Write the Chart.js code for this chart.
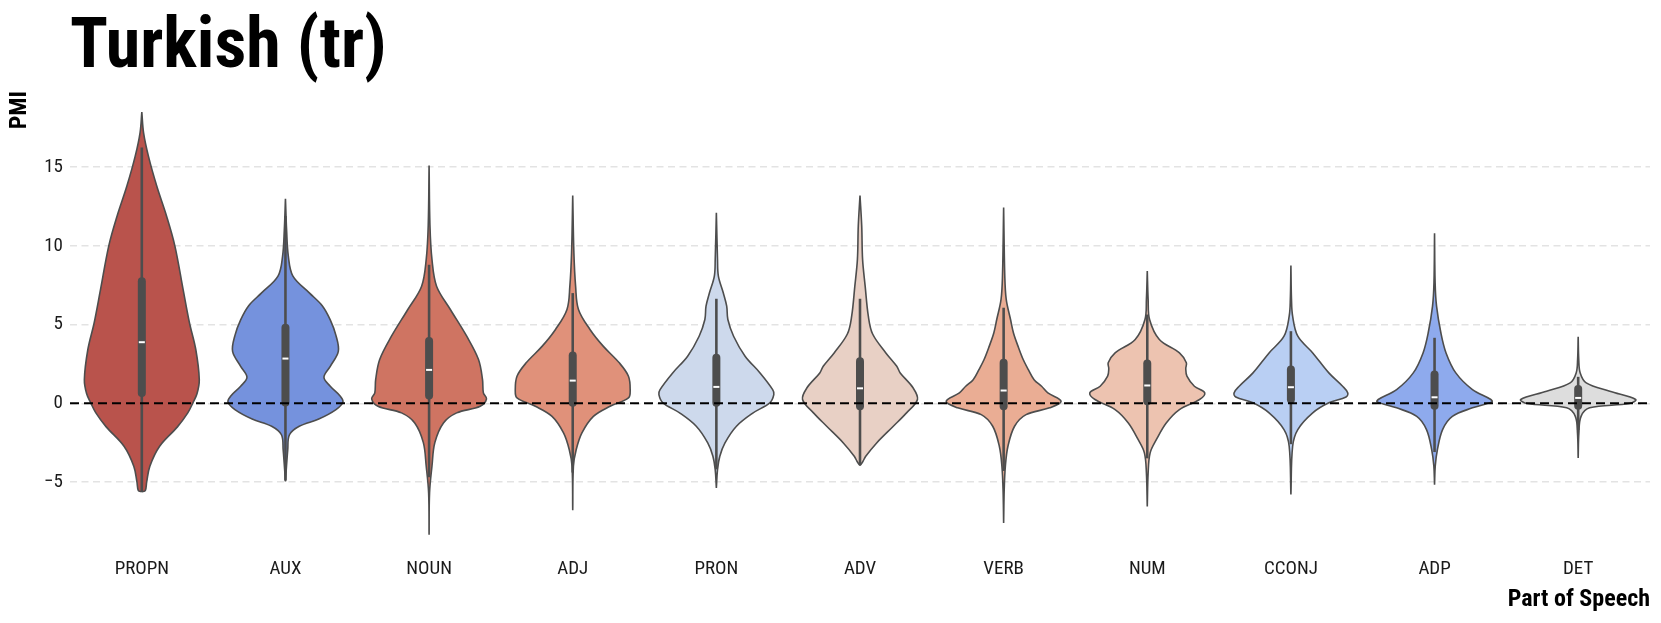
<!DOCTYPE html>
<html>
<head>
<meta charset="utf-8">
<script src="https://cdn.jsdelivr.net/npm/chart.js@4.4.1/dist/chart.umd.min.js"></script>
<style>
html,body{margin:0;padding:0;background:#ffffff;}
#wrap{width:1661px;height:623px;position:relative;}
</style>
</head>
<body>
<div id="wrap"><canvas id="c"></canvas></div>
<script>
// ---------- data ----------
const categories = ['PROPN','AUX','NOUN','ADJ','PRON','ADV','VERB','NUM','CCONJ','ADP','DET'];
const fillColors = ['#b9534c','#7592dd','#cf7462','#e0917a','#cdd9ec','#e8d0c5','#eaad94','#edc3b0','#b9cff3','#8eaaed','#dddddd'];
const yTickValues = [-5, 0, 5, 10, 15];

// violin outlines: PMI level and relative half-width (1 = widest point of that violin)
const PROPN_pmi   = [-5.62,-5.55,-5.0,-4.0,-2.73,-1.5,-0.61,0.03,0.6,1.5,3.4,5.1,7.2,10.0,11.9,13.8,15.7,17.2,18.5];
const PROPN_width = [0,0.06,0.085,0.14,0.31,0.62,0.8,0.89,0.96,1.0,0.94,0.83,0.72,0.575,0.43,0.26,0.115,0.03,0];
const AUX_pmi     = [-4.96,-2.95,-2.0,-1.46,-1.0,-0.4,0.08,0.45,1.08,1.65,2.35,3.3,4.3,5.3,6.2,7.0,8.08,9.35,11.0,13.0];
const AUX_width   = [0,0.04,0.07,0.24,0.58,0.88,1.0,0.955,0.78,0.67,0.78,0.92,0.88,0.78,0.64,0.42,0.13,0.05,0.02,0];
const NOUN_pmi    = [-8.35,-5.7,-4.0,-2.5,-1.25,-0.61,-0.19,0.28,0.66,1.5,2.78,4.26,5.96,7.44,9.14,11.3,15.1];
const NOUN_width  = [0,0.008,0.05,0.1,0.25,0.48,0.89,1.0,0.945,0.93,0.86,0.655,0.37,0.13,0.05,0.015,0];
const ADJ_pmi     = [-6.8,-4.0,-2.95,-1.88,-0.83,-0.19,0.34,0.87,1.72,2.57,3.63,4.69,5.96,7.44,9.57,13.2];
const ADJ_width   = [0,0.012,0.06,0.16,0.36,0.65,0.97,1.0,0.97,0.81,0.53,0.3,0.1,0.05,0.02,0];
const PRON_pmi    = [-5.38,-4.22,-3.37,-2.52,-1.46,-0.61,0.03,0.55,0.87,1.93,2.99,4.26,5.32,6.17,7.02,8.08,9.14,12.1];
const PRON_width  = [0,0.02,0.06,0.15,0.35,0.64,0.93,1.0,0.98,0.76,0.5,0.3,0.2,0.18,0.12,0.035,0.02,0];
const ADV_pmi     = [-3.96,-3.7,-3.37,-2.52,-1.46,-0.61,0.24,1.0,1.93,2.35,3.2,4.4,5.53,7.44,9.14,11.26,13.2];
const ADV_width   = [0,0.05,0.1,0.29,0.58,0.81,1.0,0.92,0.7,0.64,0.45,0.22,0.145,0.09,0.045,0.03,0];
const VERB_pmi    = [-7.6,-5.5,-4.0,-2.73,-1.46,-0.72,-0.29,0.13,0.66,1.08,1.5,2.14,2.78,3.63,4.48,5.32,6.6,8.08,12.43];
const VERB_width  = [0,0.01,0.03,0.075,0.19,0.39,0.8,1.0,0.77,0.66,0.53,0.43,0.34,0.25,0.17,0.12,0.045,0.02,0];
const NUM_pmi     = [-6.55,-4.43,-3.15,-2.3,-1.25,-0.4,0.24,0.66,1.08,1.72,2.2,2.57,3.2,4.05,5.32,6.6,8.4];
const NUM_width   = [0,0.015,0.05,0.16,0.33,0.56,0.91,1.0,0.82,0.69,0.67,0.68,0.56,0.21,0.04,0.015,0];
const CCONJ_pmi   = [-5.8,-2.73,-1.67,-0.61,0.03,0.4,0.66,1.08,1.93,3.2,4.26,5.53,6.6,8.76];
const CCONJ_width = [0,0.03,0.12,0.38,0.66,0.96,0.99,0.9,0.66,0.38,0.12,0.03,0.01,0];
const ADP_pmi     = [-5.17,-4.0,-2.95,-1.67,-0.83,-0.29,0.09,0.24,0.87,1.93,3.2,4.48,6.17,7.66,10.8];
const ADP_width   = [0,0.012,0.05,0.14,0.31,0.66,1.0,0.98,0.66,0.37,0.2,0.11,0.035,0.01,0];
const DET_pmi     = [-3.47,-1.88,-0.83,-0.29,-0.02,0.24,0.76,1.3,1.93,2.78,4.22];
const DET_width   = [0,0.012,0.05,0.2,0.89,1.0,0.55,0.14,0.035,0.01,0];

// inner box plot statistics
const boxQ1       = [0.66, 0.05, 0.49, 0.03, 0.03, -0.19, -0.19, 0.13, 0.24, -0.15, -0.15];
const boxQ3       = [7.76, 4.8, 3.95, 3.03, 2.89, 2.67, 2.57, 2.52, 2.14, 1.83, 0.91];
const boxMedian   = [3.88, 2.84, 2.12, 1.44, 1.04, 0.95, 0.81, 1.13, 1.02, 0.38, 0.34];
const whiskerHigh = [16.25, 11.9, 8.8, 7.0, 6.64, 6.64, 6.07, 5.64, 4.58, 4.16, 1.68];
const whiskerLow  = [-5.6, -4.9, -4.7, -4.4, -4.2, -3.9, -4.3, -3.5, -2.6, -3.1, -1.7];

const profilePmi   = [PROPN_pmi, AUX_pmi, NOUN_pmi, ADJ_pmi, PRON_pmi, ADV_pmi, VERB_pmi, NUM_pmi, CCONJ_pmi, ADP_pmi, DET_pmi];
const profileWidth = [PROPN_width, AUX_width, NOUN_width, ADJ_width, PRON_width, ADV_width, VERB_width, NUM_width, CCONJ_width, ADP_width, DET_width];

// ---------- style ----------
const FONT = "'Roboto Condensed','Liberation Sans Narrow','DejaVu Sans Condensed','Open Sans',sans-serif";
const HALF = 0.4;        // max half-width of a violin in category units
const OUTLINE = '#4d4d4d';

// ---------- datasets ----------
const datasets = [];
datasets.push({
  label: 'zero', data: [{x: -0.5, y: 0}, {x: categories.length - 0.5, y: 0}],
  showLine: true, borderColor: '#000000', borderWidth: 2, borderDash: [9, 5],
  pointRadius: 0, fill: false, order: 0
});
categories.forEach((cat, i) => {
  const lv = profilePmi[i], w = profileWidth[i];
  const pts = [];
  for (let k = 0; k < lv.length; k++) pts.push({x: i + HALF * w[k], y: lv[k]});
  for (let k = lv.length - 1; k >= 0; k--) pts.push({x: i - HALF * w[k], y: lv[k]});
  datasets.push({
    label: cat, data: pts, showLine: true, fill: 'shape',
    backgroundColor: fillColors[i], borderColor: OUTLINE, borderWidth: 1.6,
    tension: 0.35, pointRadius: 0, order: 4
  });
  datasets.push({
    label: cat + ' whisker', data: [{x: i, y: whiskerLow[i]}, {x: i, y: whiskerHigh[i]}],
    showLine: true, fill: false, borderColor: OUTLINE, borderWidth: 2.6,
    pointRadius: 0, order: 3
  });
  datasets.push({
    label: cat + ' box', data: [{x: i, y: boxQ1[i]}, {x: i, y: boxQ3[i]}],
    showLine: true, fill: false, borderColor: OUTLINE, borderWidth: 8,
    borderCapStyle: 'round', pointRadius: 0, order: 2
  });
  datasets.push({
    label: cat + ' median', data: [{x: i - 0.021, y: boxMedian[i]}, {x: i + 0.021, y: boxMedian[i]}],
    showLine: true, fill: false, borderColor: '#ffffff', borderWidth: 2,
    pointRadius: 0, order: 1
  });
});

new Chart(document.getElementById('c'), {
  type: 'scatter',
  data: { datasets },
  options: {
    responsive: true,
    maintainAspectRatio: false,
    devicePixelRatio: 1,
    animation: false,
    layout: { padding: { left: 0, right: 11, top: 0, bottom: 0 } },
    plugins: {
      legend: { display: false },
      tooltip: { enabled: false },
      title: {
        display: true, text: 'Turkish (tr)', align: 'start', fullSize: false,
        color: '#000000',
        font: { family: FONT, size: 70, weight: 'bold', lineHeight: 1.0 },
        padding: { top: 14, bottom: 7 }
      }
    },
    scales: {
      x: {
        type: 'linear', min: -0.5, max: categories.length - 0.5,
        grid: { display: false, drawTicks: false },
        border: { display: false },
        afterBuildTicks: (s) => { s.ticks = categories.map((c, i) => ({value: i})); },
        afterFit: (s) => { s.height = 68; },
        ticks: {
          autoSkip: false, maxRotation: 0, padding: 3, color: '#1a1a1a',
          font: { family: FONT, size: 19 },
          callback: (v) => categories[v]
        },
        title: {
          display: true, text: 'Part of Speech', align: 'end', color: '#000000',
          font: { family: FONT, size: 24, weight: 'bold' },
          padding: { top: 0, bottom: 9 }
        }
      },
      y: {
        type: 'linear', min: -9.64, max: 19.84,
        grid: { color: '#e3e3e3', lineWidth: 1.5, drawTicks: false },
        border: { display: false, dash: [7, 4.5] },
        afterBuildTicks: (s) => { s.ticks = yTickValues.map(v => ({value: v})); },
        afterFit: (s) => { s.width = 70; },
        ticks: {
          padding: 7, color: '#1a1a1a',
          font: { family: FONT, size: 19 },
          callback: (v) => String(v).replace('-', '\u2212')
        },
        title: {
          display: true, text: 'PMI', align: 'end', color: '#000000',
          font: { family: FONT, size: 24, weight: 'bold' },
          padding: { top: 6, bottom: 0 }
        }
      }
    }
  }
});
</script>
</body>
</html>
